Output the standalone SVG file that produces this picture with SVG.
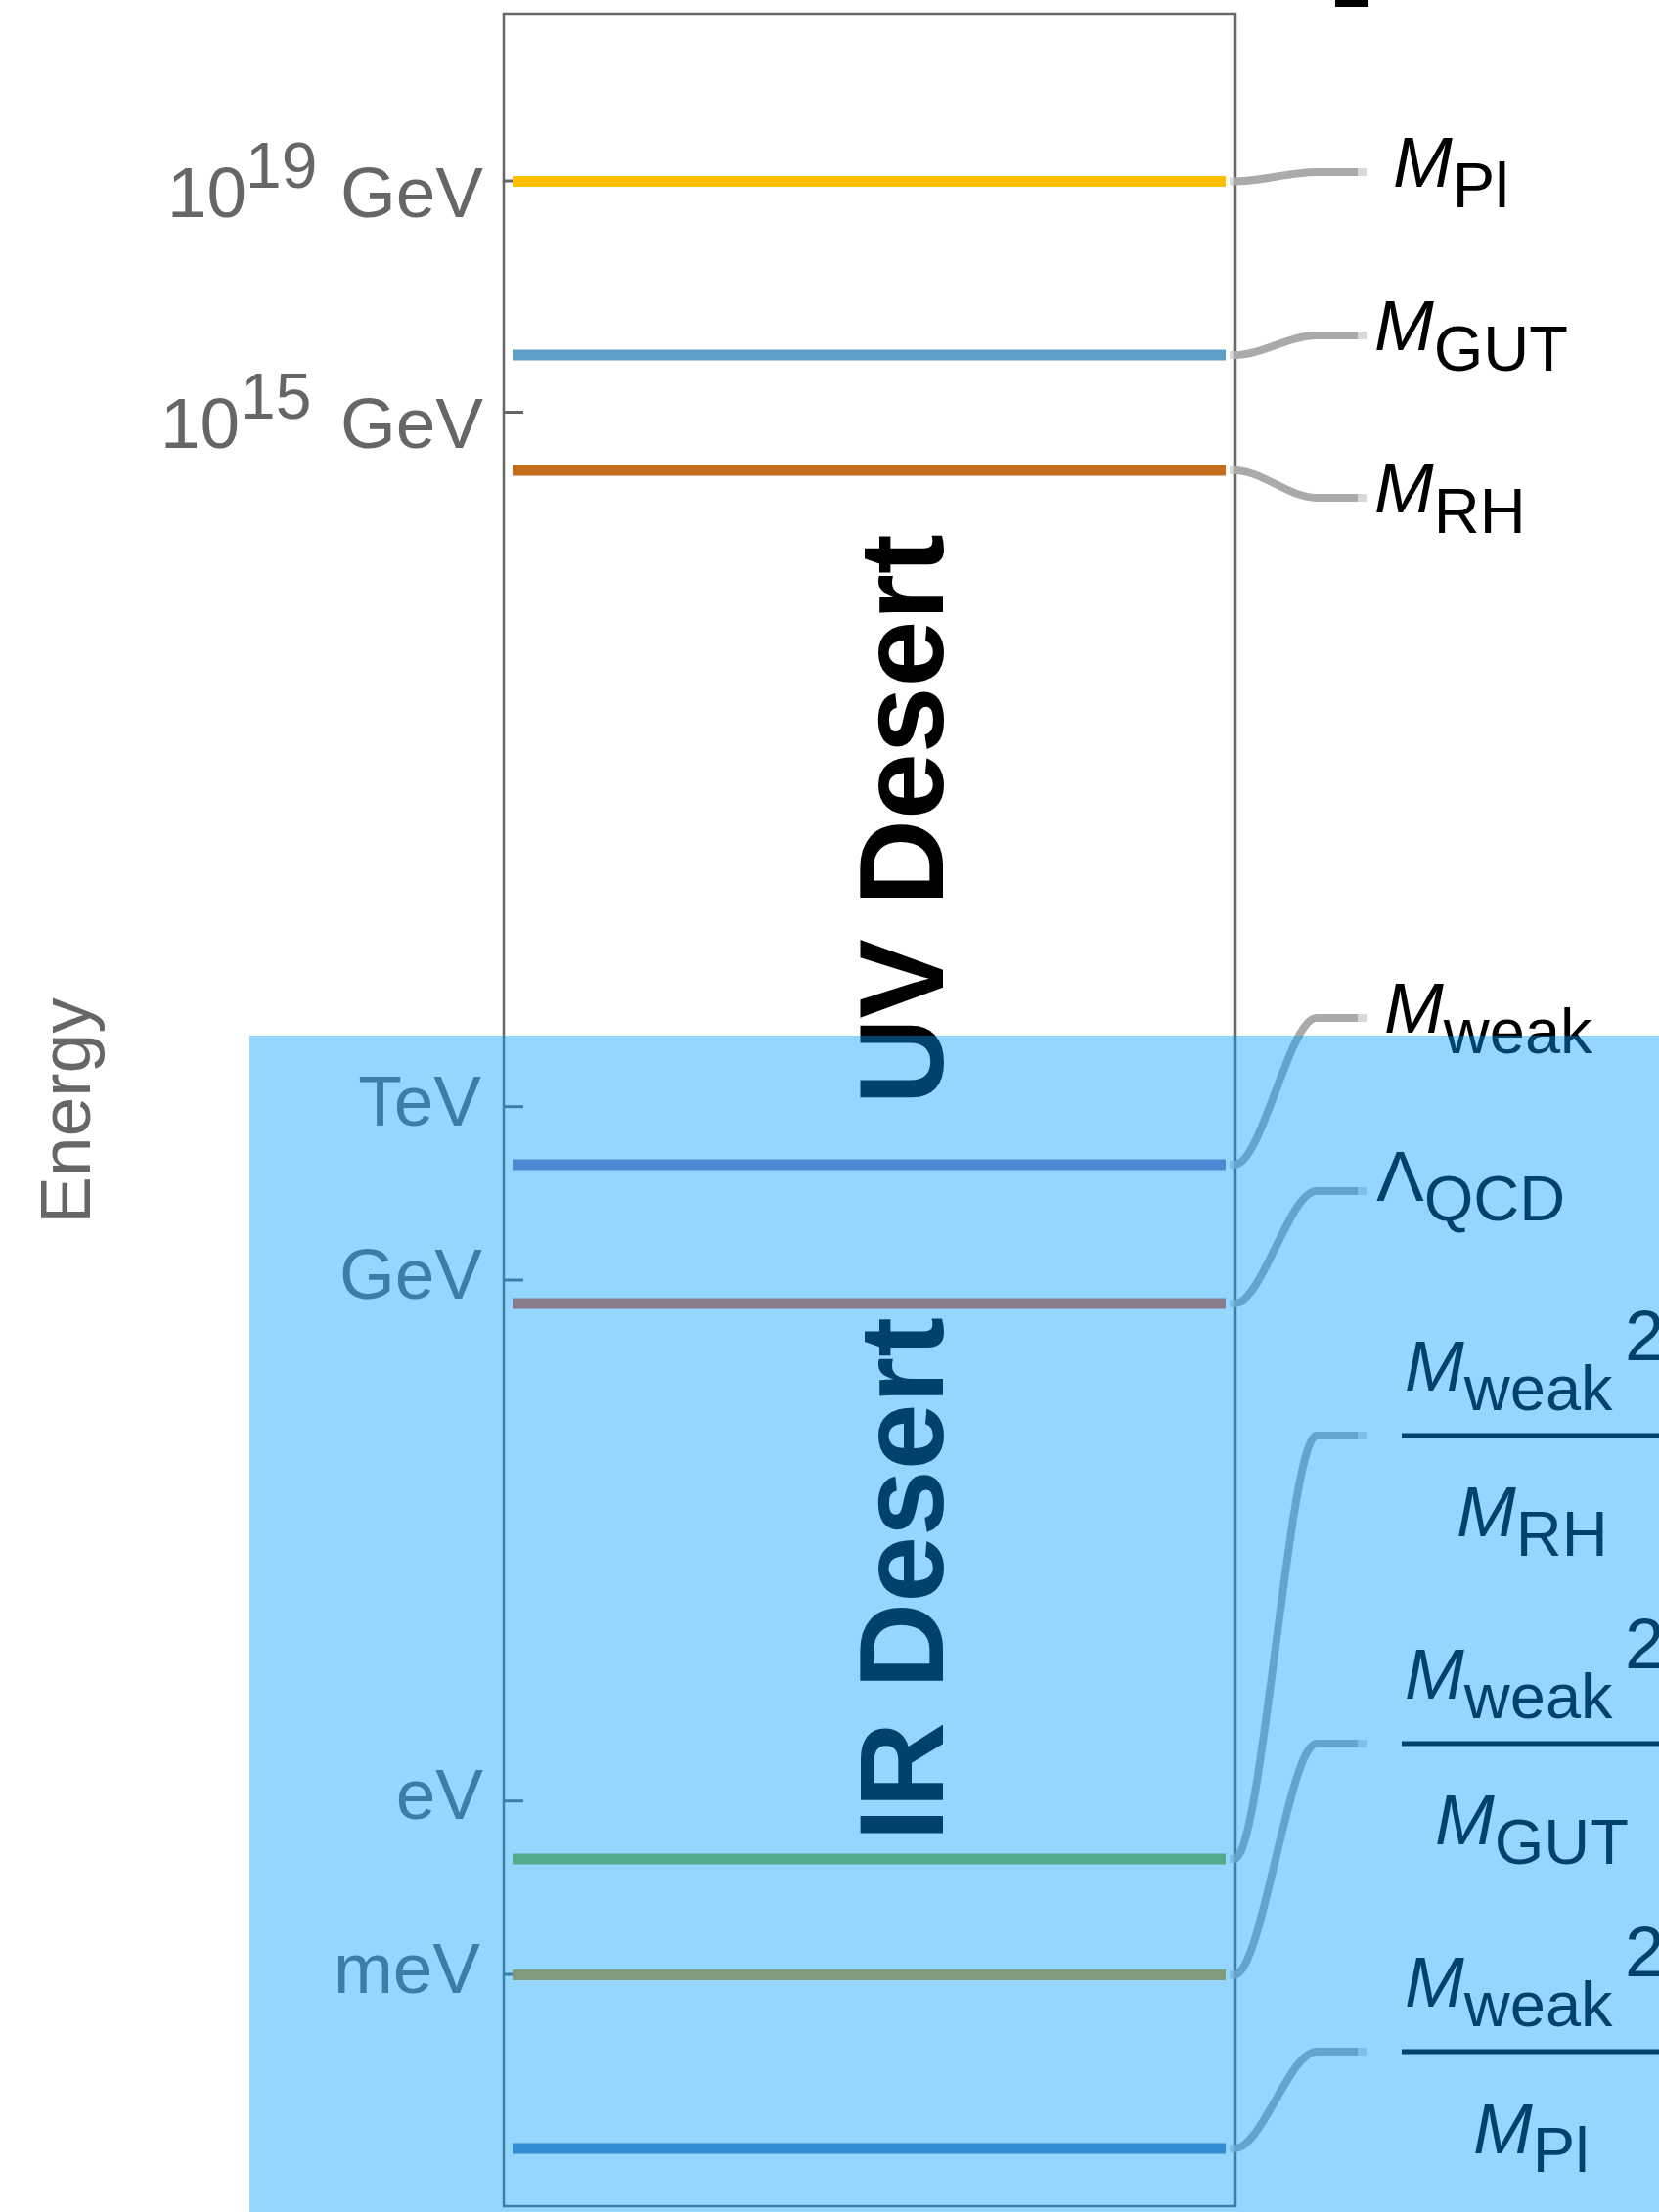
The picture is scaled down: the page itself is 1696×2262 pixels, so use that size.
<svg xmlns="http://www.w3.org/2000/svg" width="1696" height="2262" viewBox="0 0 1696 2262">
<style>
text{font-family:"Liberation Sans",Arial,sans-serif}
.tick{fill:#666666;font-size:73px}
.sup{font-size:66px}
.lab{fill:#000;font-size:73px}
.it{font-style:italic}
.sub{font-size:65px;font-style:normal}
.lvl{stroke-width:11;fill:none}
.con{stroke:#aaaaaa;stroke-width:8;fill:none;stroke-linejoin:round}
.tip{stroke:#aaaaaa;stroke-width:8;fill:none;opacity:.45}
.desert{font-weight:bold;font-size:122px;fill:#000}
.bar{stroke:#000;stroke-width:5}
</style>
<rect x="0" y="0" width="1696" height="2262" fill="#ffffff"/>
<rect x="1365" y="0" width="34" height="7" fill="#000"/>

<g id="axis">
<rect x="515" y="14" width="748" height="2242" fill="none" stroke="#666666" stroke-width="2.5"/>
<g stroke="#666666" stroke-width="3">
<line x1="515" y1="185" x2="535" y2="185"/>
<line x1="515" y1="421.5" x2="535" y2="421.5"/>
<line x1="515" y1="1131.7" x2="535" y2="1131.7"/>
<line x1="515" y1="1309" x2="535" y2="1309"/>
<line x1="515" y1="1841.7" x2="535" y2="1841.7"/>
<line x1="515" y1="2019" x2="535" y2="2019"/>
</g>
<text class="tick" x="171" y="222">10</text><text class="tick sup" x="251" y="192">19</text><text class="tick" x="494" y="222" text-anchor="end">GeV</text>
<text class="tick" x="164" y="458">10</text><text class="tick sup" x="245" y="428">15</text><text class="tick" x="494" y="458" text-anchor="end">GeV</text>
<text class="tick" x="492" y="1151" text-anchor="end">TeV</text>
<text class="tick" x="493" y="1328" text-anchor="end">GeV</text>
<text class="tick" x="494" y="1860" text-anchor="end">eV</text>
<text class="tick" x="491" y="2038" text-anchor="end">meV</text>
<text class="tick" transform="translate(92,1136) rotate(-90)" text-anchor="middle">Energy</text>
</g>

<g id="uv-desert"><text class="desert" transform="translate(964,838) rotate(-90)" text-anchor="middle">UV Desert</text></g>
<g id="ir-desert"><text class="desert" transform="translate(964,1615) rotate(-90)" text-anchor="middle">IR Desert</text></g>

<g id="connectors">
<path class="con" d="M1262,185.5 C1290,185.5 1318,176 1346,176 L1388,176"/>
<path class="con" d="M1262,363 C1290,363 1318,343 1346,343 L1388,343"/>
<path class="con" d="M1262,481 C1290,481 1318,509 1346,509 L1388,509"/>
<path class="con" d="M1262,1191 C1290,1191 1318,1041 1346,1041 L1388,1041"/>
<path class="con" d="M1262,1333 C1290,1333 1318,1218 1346,1218 L1388,1218"/>
<path class="con" d="M1262,1901 C1290,1901 1318,1468 1346,1468 L1388,1468"/>
<path class="con" d="M1262,2019.5 C1290,2019.5 1318,1783 1346,1783 L1388,1783"/>
<path class="con" d="M1262,2197 C1290,2197 1318,2098 1346,2098 L1388,2098"/>
<g class="tip">
<path d="M1257,185.5H1262M1388,176H1397"/>
<path d="M1257,363H1262M1388,343H1397"/>
<path d="M1257,481H1262M1388,509H1397"/>
<path d="M1257,1191H1262M1388,1041H1397"/>
<path d="M1257,1333H1262M1388,1218H1397"/>
<path d="M1257,1901H1262M1388,1468H1397"/>
<path d="M1257,2019.5H1262M1388,1783H1397"/>
<path d="M1257,2197H1262M1388,2098H1397"/>
</g>
</g>

<g id="planck">
<line class="lvl" x1="524" y1="185.5" x2="1253" y2="185.5" stroke="#ffbf00"/>
<text class="lab" x="1424" y="191"><tspan class="it">M</tspan><tspan class="sub" dy="21">Pl</tspan></text>
</g>
<g id="gut">
<line class="lvl" x1="524" y1="363" x2="1253" y2="363" stroke="#5e9fc8"/>
<text class="lab" x="1405" y="358"><tspan class="it">M</tspan><tspan class="sub" dy="20.6">GUT</tspan></text>
</g>
<g id="rh">
<line class="lvl" x1="524" y1="481" x2="1253" y2="481" stroke="#c26e1a"/>
<text class="lab" x="1405" y="524"><tspan class="it">M</tspan><tspan class="sub" dy="21">RH</tspan></text>
</g>
<g id="weak">
<line class="lvl" x1="524" y1="1191" x2="1253" y2="1191" stroke="#8879b7"/>
<text class="lab" x="1415" y="1056"><tspan class="it">M</tspan><tspan class="sub" dy="21">weak</tspan></text>
</g>
<g id="qcd">
<line class="lvl" x1="524" y1="1333" x2="1253" y2="1333" stroke="#e96639"/>
<text class="lab" x="1407" y="1228">Λ<tspan class="sub" dy="20">QCD</tspan></text>
</g>
<g id="seesaw-rh">
<line class="lvl" x1="524" y1="1901" x2="1253" y2="1901" stroke="#8db539"/>
<text class="lab" x="1436" y="1422"><tspan class="it">M</tspan><tspan class="sub" dy="20">weak</tspan></text>
<text class="lab sup" x="1661" y="1391">2</text>
<line class="bar" x1="1433" y1="1468" x2="1701" y2="1468"/>
<text class="lab" x="1489" y="1571"><tspan class="it">M</tspan><tspan class="sub" dy="20">RH</tspan></text>
</g>
<g id="seesaw-gut">
<line class="lvl" x1="524" y1="2019.5" x2="1253" y2="2019.5" stroke="#de9b24"/>
<text class="lab" x="1436" y="1737"><tspan class="it">M</tspan><tspan class="sub" dy="20">weak</tspan></text>
<text class="lab sup" x="1661" y="1706">2</text>
<line class="bar" x1="1433" y1="1783" x2="1701" y2="1783"/>
<text class="lab" x="1467" y="1886"><tspan class="it">M</tspan><tspan class="sub" dy="20">GUT</tspan></text>
</g>
<g id="seesaw-pl">
<line class="lvl" x1="524" y1="2197" x2="1253" y2="2197" stroke="#5a80b8"/>
<text class="lab" x="1436" y="2052"><tspan class="it">M</tspan><tspan class="sub" dy="20">weak</tspan></text>
<text class="lab sup" x="1661" y="2021">2</text>
<line class="bar" x1="1433" y1="2098" x2="1701" y2="2098"/>
<text class="lab" x="1506" y="2202"><tspan class="it">M</tspan><tspan class="sub" dy="19">Pl</tspan></text>
</g>

<g id="ir-region">
<rect x="255" y="1059" width="1441" height="1203" fill="rgb(0,157,250)" fill-opacity="0.42"/>
</g>
</svg>
